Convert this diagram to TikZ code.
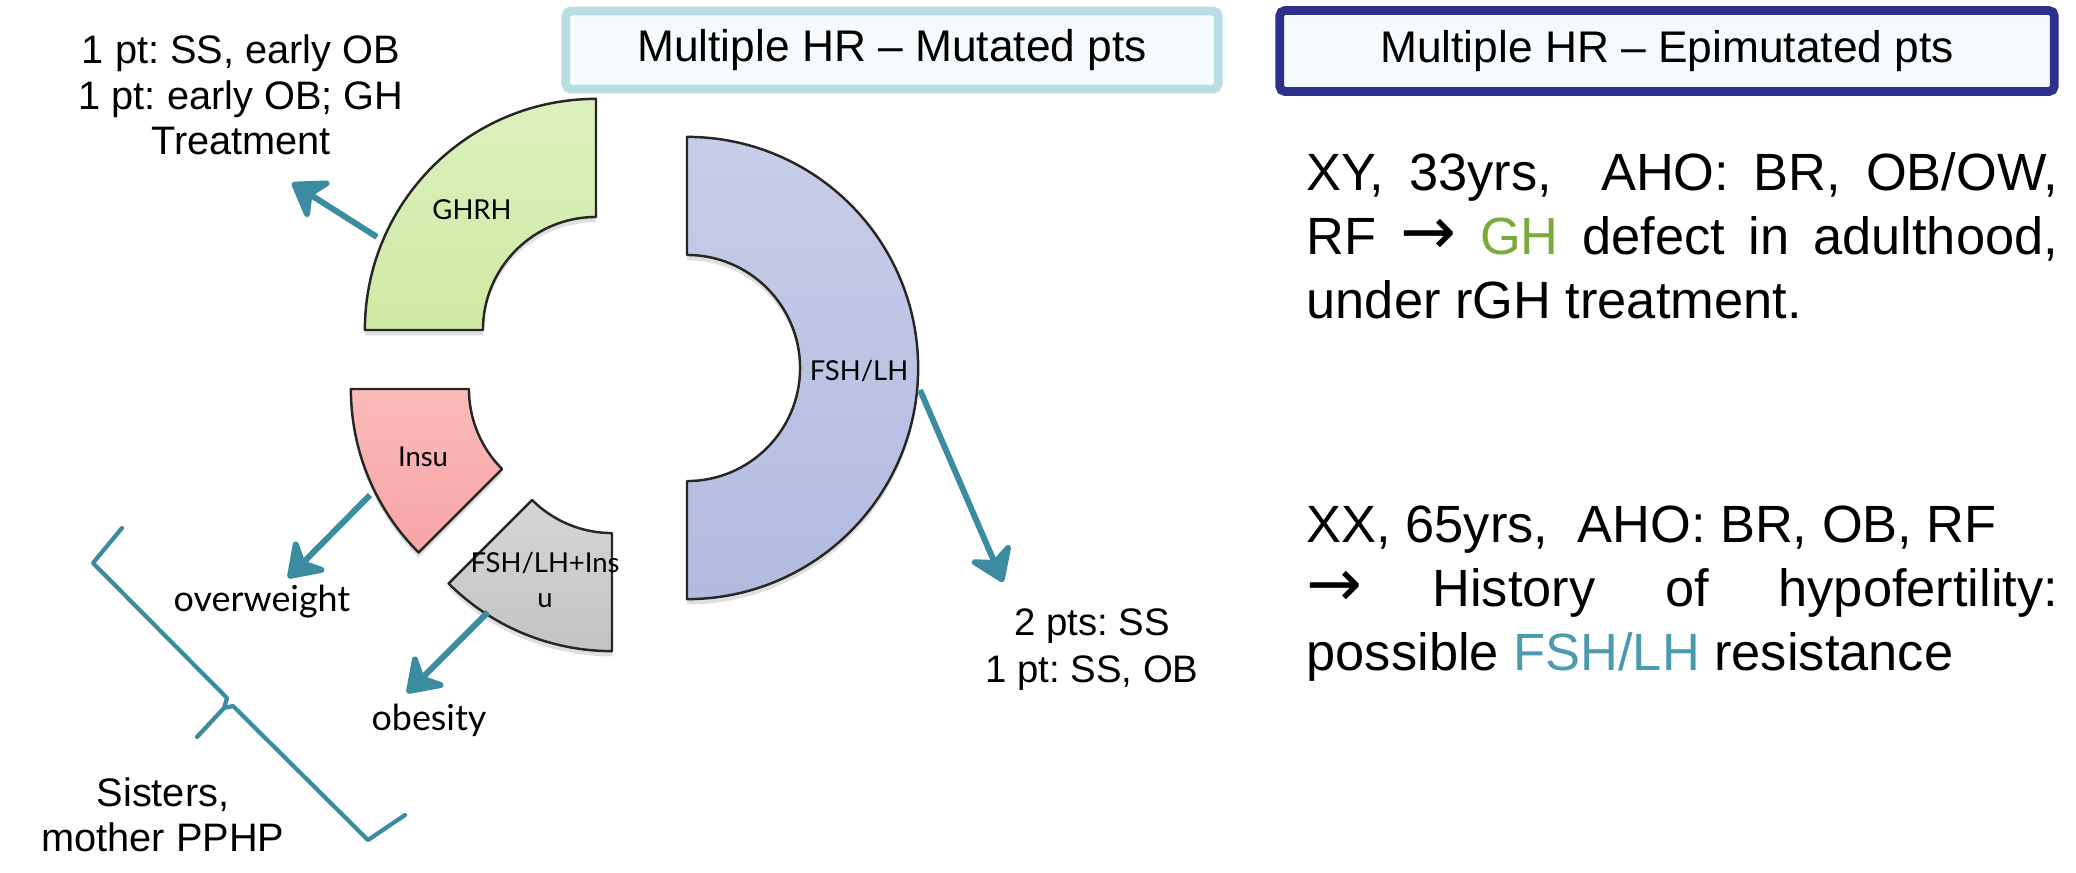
\documentclass[tikz,border=0pt]{standalone}
\usepackage{fontspec}
\setmainfont{Liberation Sans}
\newfontfamily\labelfont{Lato}
\newfontfamily\arrowfont{DejaVu Sans}
\usepackage{tikz}
\usetikzlibrary{arrows.meta,shadows}
\definecolor{hrteal}{RGB}{59,139,161}
\definecolor{ghgreen}{RGB}{122,170,60}
\definecolor{fshteal}{RGB}{74,155,176}
\definecolor{mutline}{RGB}{183,222,227}
\definecolor{epiline}{RGB}{46,49,140}
\definecolor{boxfill}{RGB}{246,250,252}
\definecolor{ghrhA}{RGB}{207,234,164}
\definecolor{ghrhB}{RGB}{220,240,190}
\definecolor{insuA}{RGB}{247,164,164}
\definecolor{insuB}{RGB}{251,186,186}
\definecolor{grayA}{RGB}{195,195,195}
\definecolor{grayB}{RGB}{214,214,214}
\definecolor{fshA}{RGB}{178,186,223}
\definecolor{fshB}{RGB}{200,205,232}

\begin{document}
\frenchspacing
\begin{tikzpicture}
  [x=0.01cm,y=0.01cm,every node/.style={inner sep=0pt},
   piece/.style={draw=black!85,line width=0.7pt,line join=round,
     drop shadow={shadow xshift=0pt,shadow yshift=-1.5pt,opacity=0.25}},
   partlabel/.style={font=\labelfont\fontsize{7.8}{10}\selectfont,align=center},
   outcome/.style={font=\labelfont\fontsize{10.2}{12}\selectfont},
   note/.style={font=\fontsize{11.3}{12.9}\selectfont,align=center},
   titlebox/.style={draw,line width=2.5pt,fill=boxfill,rounded corners=1.5pt,
     font=\fontsize{12.6}{15}\selectfont},
   casetext/.style={font=\fontsize{14.9}{18.2}\selectfont,align=left},
   hrarrow/.style={draw=hrteal,line width=1.7pt,
     -{Stealth[length=11pt,width=15pt,inset=3.5pt,round]}},
   braceline/.style={draw=hrteal,line width=1.2pt,line join=round,line cap=round}]
  \useasboundingbox (0,0) rectangle (2076,-872);

  \foreach \cx/\cy/\a/\b/\ca/\cb in {596/-330/90/180/ghrhA/ghrhB,582/-389/180/225/insuA/insuB,
      612/-420/225/270/grayA/grayB,687/-368/-90/90/fshA/fshB}
    \draw[piece,shift={(\cx,\cy)},top color=\cb,bottom color=\ca]
      (\a:2.31cm) arc[start angle=\a,end angle=\b,radius=2.31cm]
      -- (\b:1.13cm) arc[start angle=\b,end angle=\a,radius=1.13cm] -- cycle;

  \node[partlabel] (ghrh) at (472,-210) {GHRH};
  \node[partlabel] (insu) at (423,-457) {Insu};
  \node[partlabel] (mixed) at (545,-580) {FSH/LH+Ins\\u};
  \node[partlabel] (fshlh) at (859,-371) {FSH/LH};

  \node[titlebox,draw=mutline,minimum width=6.52cm,minimum height=0.78cm] (muttitle) at (892,-50) {Multiple HR -- Mutated pts};
  \node[titlebox,draw=epiline,minimum width=7.74cm,minimum height=0.81cm] (epititle) at (1667,-51) {Multiple HR -- Epimutated pts};

  \node[note] (ghnote) at (241,-95) {1 pt: SS, early OB\\1 pt: early OB; GH\\Treatment};
  \node[outcome] (overweight) at (262,-602) {overweight};
  \node[outcome] (obesity) at (429,-720) {obesity};
  \node[note,font=\fontsize{10.9}{13.4}\selectfont] (fshnote) at (1092,-650) {2 pts: SS\\1 pt: SS, OB};
  \node[note] (sisters) at (163,-815) {Sisters,\\mother PPHP};

  \node[casetext,anchor=west] (case1) at (1306,-236)
    {\makebox[7.51cm][s]{XY, 33yrs, \ AHO: BR, OB/OW,}\\
     \makebox[7.51cm][s]{RF {\arrowfont\fontsize{19}{18.2}\selectfont→} \textcolor{ghgreen}{GH} defect in adulthood,}\\
     under rGH treatment.};
  \node[casetext,anchor=west] (case2) at (1306,-594)
    {XX, 65yrs, \ AHO: BR, OB, RF\\
     \makebox[7.51cm][s]{{\arrowfont\fontsize{19}{18.2}\selectfont→} History of hypofertility:}\\
     possible \textcolor{fshteal}{FSH/LH} resistance};

  \coordinate (ghrhtail) at (377,-237);
  \coordinate (ghrhhead) at (292,-183);
  \coordinate (fshtail) at (920,-390);
  \coordinate (fshhead) at (1003,-582);
  \coordinate (insutail) at (370,-495);
  \coordinate (insuhead) at (288,-578);
  \coordinate (mixtail) at (488,-612);
  \coordinate (mixhead) at (407,-693);
  \foreach \from/\to in {ghrhtail/ghrhhead,fshtail/fshhead,insutail/insuhead,mixtail/mixhead}
    \draw[hrarrow] (\from) -- (\to);

  \draw[braceline] (122,-528) -- (93,-563) -- (227,-698) -- (224,-708) -- (197,-737)
    (224,-708) -- (233,-706) -- (368,-840) -- (405,-815);
\end{tikzpicture}
\end{document}
